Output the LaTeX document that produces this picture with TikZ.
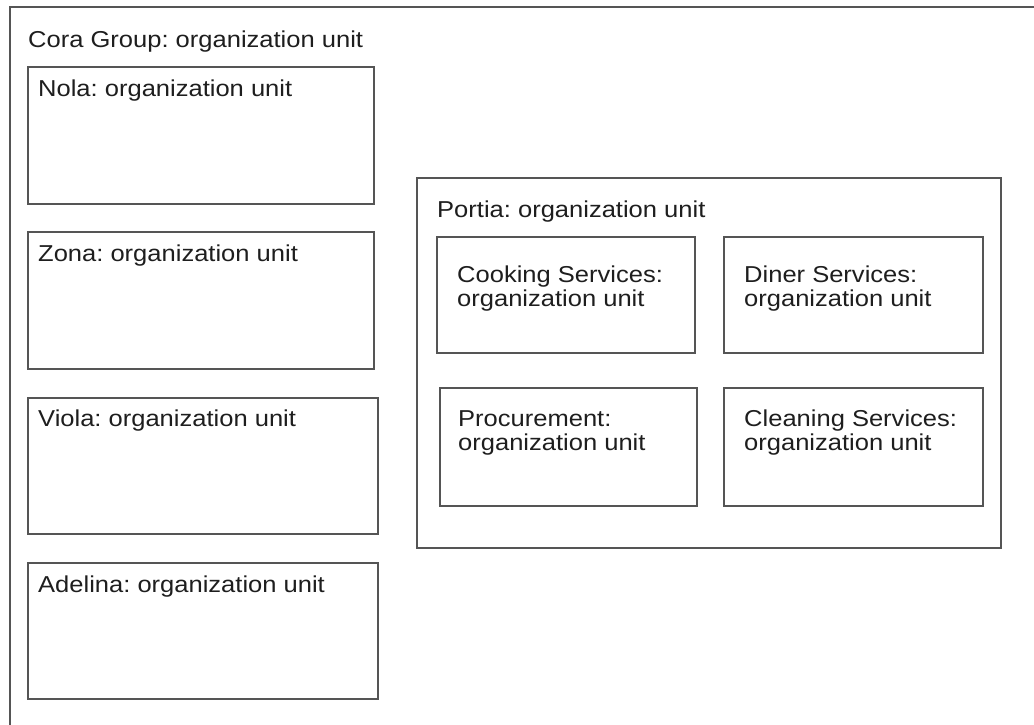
\documentclass[tikz,border=0pt]{standalone}
\usepackage{graphicx}
\usepackage{fontspec}
\setmainfont{Liberation Sans}
\frenchspacing
\definecolor{edge}{HTML}{555555}
\definecolor{ink}{HTML}{1E1E1E}
\newcommand{\widetxt}[1]{\scalebox{1.11}[1]{#1}}
\newcommand{\twolines}[2]{\widetxt{\vtop{\baselineskip=24pt\lineskiplimit=-100pt\hbox{#1}\hbox{#2}}}}
\begin{document}
\begin{tikzpicture}[x=1pt,y=-1pt,
  unitbox/.style={draw=edge, line width=1.3pt, fill=white},
  unittext/.style={anchor=base west, inner sep=0pt, text=ink,
    font=\fontsize{23}{24}\selectfont\frenchspacing}]
\useasboundingbox (0,0) rectangle (1034,724);
\fill[white] (0,0) rectangle (1034,724);
\clip (0,0) rectangle (1034,724);
% outer frame (continues past the right and bottom edges)
\draw[unitbox] (10,7) rectangle (1045,740);
\node[unittext] (cora) at (28,47) {\widetxt{Cora Group: organization unit}};
% left column
\draw[unitbox] (28,67) rectangle (374,204);
\node[unittext] (nola) at (38,96) {\widetxt{Nola: organization unit}};
\draw[unitbox] (28,232) rectangle (374,369);
\node[unittext] (zona) at (38,261) {\widetxt{Zona: organization unit}};
\draw[unitbox] (28,398) rectangle (378,534);
\node[unittext] (viola) at (38,426) {\widetxt{Viola: organization unit}};
\draw[unitbox] (28,563) rectangle (378,699);
\node[unittext] (adelina) at (38,592) {\widetxt{Adelina: organization unit}};
% Portia
\draw[unitbox] (417,178) rectangle (1001,548);
\node[unittext] (portia) at (437,217) {\widetxt{Portia: organization unit}};
\draw[unitbox] (437,237) rectangle (695,353);
\node[unittext] (cooking) at (457,282) {\twolines{Cooking Services:}{organization unit}};
\draw[unitbox] (724,237) rectangle (983,353);
\node[unittext] (diner) at (744,282) {\twolines{Diner Services:}{organization unit}};
\draw[unitbox] (440,388) rectangle (697,506);
\node[unittext] (procurement) at (458,426) {\twolines{Procurement:}{organization unit}};
\draw[unitbox] (724,388) rectangle (983,506);
\node[unittext] (cleaning) at (744,426) {\twolines{Cleaning Services:}{organization unit}};
\end{tikzpicture}
\end{document}
